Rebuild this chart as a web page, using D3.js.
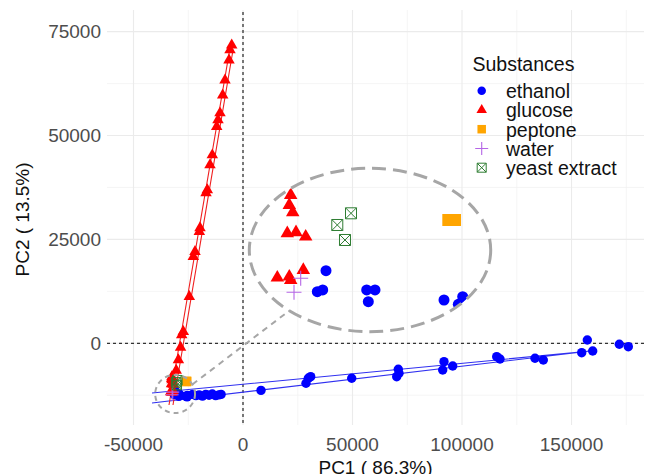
<!DOCTYPE html>
<html><head><meta charset="utf-8">
<script src="https://cdn.jsdelivr.net/npm/d3@7"></script>
<style>body{margin:0;background:#fff}svg{display:block}</style>
</head><body><svg id="c" width="645" height="474"></svg>
<script>
// ---------------- data ----------------
const categories = ["ethanol", "glucose", "peptone", "water", "yeast extract"];
const ethanol = [
  [8219,-11333],[28767,-9625],[29817,-8422],[30913,-8037],[49635,-8422],
  [70183,-8037],[70913,-6256],[71233,-7218],[91781,-4427],[95753,-5462],
  [91187,-6424],[115845,-3224],[117352,-3778],[133333,-3609],[137123,-4018],
  [157215,794],[154658,-2262],[159680,-1853],[171826,-241],[175936,-818],
  [-23000,-12300],[-21500,-12600],[-20000,-12400],[-18500,-12700],[-17000,-12300],
  [-15500,-12500],[-14000,-12200],[-12500,-12600],[-11000,-12400],[-10000,-12300],
  [-31023,-11412],[-31383,-12337],[-31159,-12262],[-29337,-12262],[-28993,-12262],
  [-29270,-12778],[-26135,-12703],[-25360,-12558],[-25542,-12893]
];
const glucose = [
  [-5160,71730],[-5940,70570],[-6390,68120],[-8220,63310],[-9270,59700],
  [-10500,55410],[-11420,53730],[-12010,52120],[-14020,45300],[-15070,42900],
  [-16300,36890],[-16890,36160],[-19630,27740],[-19950,26850],[-21920,22040],
  [-22690,20840],[-24520,11210],[-27260,2790],[-27990,2000],[-28500,-1000],
  [-29500,-4000],[-30500,-6500],
  [-32485,-8076],[-32543,-8517],[-32402,-8839],[-32626,-9764],[-32265,-9720],
  [-31864,-9914],[-33040,-11720],[-32543,-11676],[-32485,-11822],[-31963,-11381]
];
const peptone = [[-25956,-9178],[-25679,-9178]];
const water = [[-32348,-12364],[-32071,-11747]];
const yeastExtract = [[-29987,-8883],[-30555,-9398],[-30236,-10059]];

// group outlines (paths through the groups)
const ethanolBand = [[-41553,-11959],[158676,-1853],[-41553,-14365]];
const glucoseBand = [[-33790,-14846],[-5936,71054],[-4566,70572],[-31963,-14846]];

const xTicks = [-50000, 0, 50000, 100000, 150000];
const xMinor = [-25000, 25000, 75000, 125000, 175000];
const yTicks = [0, 25000, 50000, 75000];
const yMinor = [-12500, 12500, 37500, 62500];
const xLabel = "PC1 ( 86.3%)";
const yLabel = "PC2 ( 13.5%)";
const legendTitle = "Substances";

// magnifier: source region (drawn), magnified domain, target ellipse
const zoomFrom = {cx: -31000, cy: -12200, rx: 9100, ry: 4600};
const zoomDomainX = [-34200, -24200];
const zoomDomainY = [-14100, -6900];
const zoomTo = {cx: 57990, cy: 22450, rx: 55115, ry: 19658};

// ---------------- drawing ----------------
const svg = d3.select("#c");
const FONT = "'Liberation Sans', Arial, sans-serif";
const L = 107, R = 644, T = 10, B = 425;
const x = d3.scaleLinear().domain([-62100, 183100]).range([L, R]);
const y = d3.scaleLinear().domain([-19660, 80200]).range([B, T]);

const colors = {"ethanol":"#0000FF","glucose":"#FF0000","peptone":"#FFA500","water":"#B566E6","yeast extract":"#2E7D32"};

// grid
const grid = svg.append("g");
grid.selectAll(".xm").data(xMinor).join("line")
  .attr("x1", d=>x(d)).attr("x2", d=>x(d)).attr("y1", T).attr("y2", B)
  .attr("stroke", "#F0F0F0").attr("stroke-width", 0.7);
grid.selectAll(".ym").data(yMinor).join("line")
  .attr("y1", d=>y(d)).attr("y2", d=>y(d)).attr("x1", L).attr("x2", R)
  .attr("stroke", "#F0F0F0").attr("stroke-width", 0.7);
grid.selectAll(".xM").data(xTicks).join("line")
  .attr("x1", d=>x(d)).attr("x2", d=>x(d)).attr("y1", T).attr("y2", B)
  .attr("stroke", "#EBEBEB").attr("stroke-width", 1.1);
grid.selectAll(".yM").data(yTicks).join("line")
  .attr("y1", d=>y(d)).attr("y2", d=>y(d)).attr("x1", L).attr("x2", R)
  .attr("stroke", "#EBEBEB").attr("stroke-width", 1.1);

// zero lines
svg.append("line").attr("x1", x(0)).attr("x2", x(0)).attr("y1", T+2).attr("y2", B)
  .attr("stroke", "#333").attr("stroke-width", 1.3).attr("stroke-dasharray", "3,3");
svg.append("line").attr("y1", y(0)).attr("y2", y(0)).attr("x1", L).attr("x2", R)
  .attr("stroke", "#333").attr("stroke-width", 1.3).attr("stroke-dasharray", "3,3");

// tick labels
svg.append("g").selectAll("text").data(xTicks).join("text")
  .attr("x", d=>x(d)).attr("y", 451).attr("text-anchor", "middle")
  .attr("font-family", FONT).attr("font-size", 19).attr("fill", "#4D4D4D")
  .text(d=>String(d));
svg.append("g").selectAll("text").data(yTicks).join("text")
  .attr("x", 101).attr("y", d=>y(d)+6.8).attr("text-anchor", "end")
  .attr("font-family", FONT).attr("font-size", 19).attr("fill", "#4D4D4D")
  .text(d=>String(d));
svg.append("text").attr("x", (L+R)/2).attr("y", 474).attr("text-anchor", "middle")
  .attr("font-family", FONT).attr("font-size", 19).attr("fill", "#111").text(xLabel);
svg.append("text").attr("transform", `translate(28.5,${(T+B)/2+2}) rotate(-90)`)
  .attr("text-anchor", "middle")
  .attr("font-family", FONT).attr("font-size", 19).attr("fill", "#111").text(yLabel);

// group bands
const line = d3.line().x(d=>x(d[0])).y(d=>y(d[1]));
svg.append("path").attr("d", line(ethanolBand)).attr("fill", "none")
  .attr("stroke", "#3030F0").attr("stroke-width", 1.1);
svg.append("path").attr("d", line(glucoseBand)).attr("fill", "none")
  .attr("stroke", "#F02020").attr("stroke-width", 1.1);

// symbols
function drawSymbol(g, type, cx, cy, s) {
  const c = colors[type];
  if (type === "ethanol") {
    g.append("circle").attr("cx", cx).attr("cy", cy).attr("r", s/2).attr("fill", c);
  } else if (type === "glucose") {
    const h = s*0.866;
    g.append("path").attr("d", `M${cx},${cy-h*2/3}L${cx+s/2},${cy+h/3}L${cx-s/2},${cy+h/3}Z`)
      .attr("fill", c);
  } else if (type === "peptone") {
    g.append("rect").attr("x", cx-s/2).attr("y", cy-s/2).attr("width", s).attr("height", s).attr("fill", c);
  } else if (type === "water") {
    g.append("path").attr("d", `M${cx-s/2},${cy}H${cx+s/2}M${cx},${cy-s/2}V${cy+s/2}`)
      .attr("stroke", c).attr("stroke-width", 1.1).attr("fill", "none");
  } else {
    g.append("path").attr("d", `M${cx-s/2},${cy-s/2}H${cx+s/2}V${cy+s/2}H${cx-s/2}ZM${cx-s/2},${cy-s/2}L${cx+s/2},${cy+s/2}M${cx+s/2},${cy-s/2}L${cx-s/2},${cy+s/2}`)
      .attr("stroke", c).attr("stroke-width", 1).attr("fill", "none");
  }
}
const groups = [["ethanol", ethanol], ["glucose", glucose], ["peptone", peptone], ["water", water], ["yeast extract", yeastExtract]];
const mainSize = {"ethanol":9.4, "glucose":11.5, "peptone":9.5, "water":13, "yeast extract":9.5};
const inSize = {"ethanol":11, "glucose":13.5, "peptone":12, "water":15, "yeast extract":11};

const gMain = svg.append("g");
groups.forEach(([k, arr]) => arr.forEach(d => drawSymbol(gMain, k, x(d[0]), y(d[1]), mainSize[k])));

// magnifier
const sx = x(zoomFrom.cx), sy = y(zoomFrom.cy);
const srx = x(zoomFrom.cx + zoomFrom.rx) - sx, sry = sy - y(zoomFrom.cy + zoomFrom.ry);
const bx = x(zoomTo.cx), by = y(zoomTo.cy);
const brx = x(zoomTo.cx + zoomTo.rx) - bx, bry = by - y(zoomTo.cy + zoomTo.ry);
const xi = d3.scaleLinear().domain(zoomDomainX).range([bx-brx, bx+brx]);
const yi = d3.scaleLinear().domain(zoomDomainY).range([by+bry, by-bry]);

svg.append("ellipse").attr("cx", sx).attr("cy", sy).attr("rx", srx).attr("ry", sry)
  .attr("fill", "none").attr("stroke", "#A6A6A6").attr("stroke-width", 2).attr("stroke-dasharray", "5,4");

// projection line
const a1 = -30*Math.PI/180, a2 = 132*Math.PI/180;
const p1 = [sx + srx*Math.cos(a1), sy + sry*Math.sin(a1)];
const p2 = [bx + brx*Math.cos(a2), by + bry*Math.sin(a2)];
svg.append("line").attr("x1", p1[0]).attr("y1", p1[1]).attr("x2", p2[0]).attr("y2", p2[1])
  .attr("stroke", "#A6A6A6").attr("stroke-width", 2).attr("stroke-dasharray", "6,5");

const defs = svg.append("defs");
defs.append("clipPath").attr("id", "zc").append("ellipse")
  .attr("cx", bx).attr("cy", by).attr("rx", brx).attr("ry", bry);
const gIn = svg.append("g").attr("clip-path", "url(#zc)");
groups.forEach(([k, arr]) => arr.forEach(d => drawSymbol(gIn, k, xi(d[0]), yi(d[1]), inSize[k])));

svg.append("ellipse").attr("cx", bx).attr("cy", by).attr("rx", brx).attr("ry", bry)
  .attr("fill", "none").attr("stroke", "#A6A6A6").attr("stroke-width", 3).attr("stroke-dasharray", "14,7");

// legend
const lg = svg.append("g");
lg.append("text").attr("x", 472.5).attr("y", 71).attr("font-family", FONT).attr("font-size", 19.5)
  .attr("fill", "#111").text(legendTitle);
const legSize = {"ethanol":8.5, "glucose":10.5, "peptone":8.5, "water":13, "yeast extract":9};
categories.forEach((k, i) => {
  const cy = 90.7 + i*19.25;
  drawSymbol(lg, k, 481.7, cy, legSize[k]);
  lg.append("text").attr("x", 506).attr("y", cy + 7.3).attr("font-family", FONT)
    .attr("font-size", 19.5).attr("fill", "#111").text(k);
});
</script></body></html>
